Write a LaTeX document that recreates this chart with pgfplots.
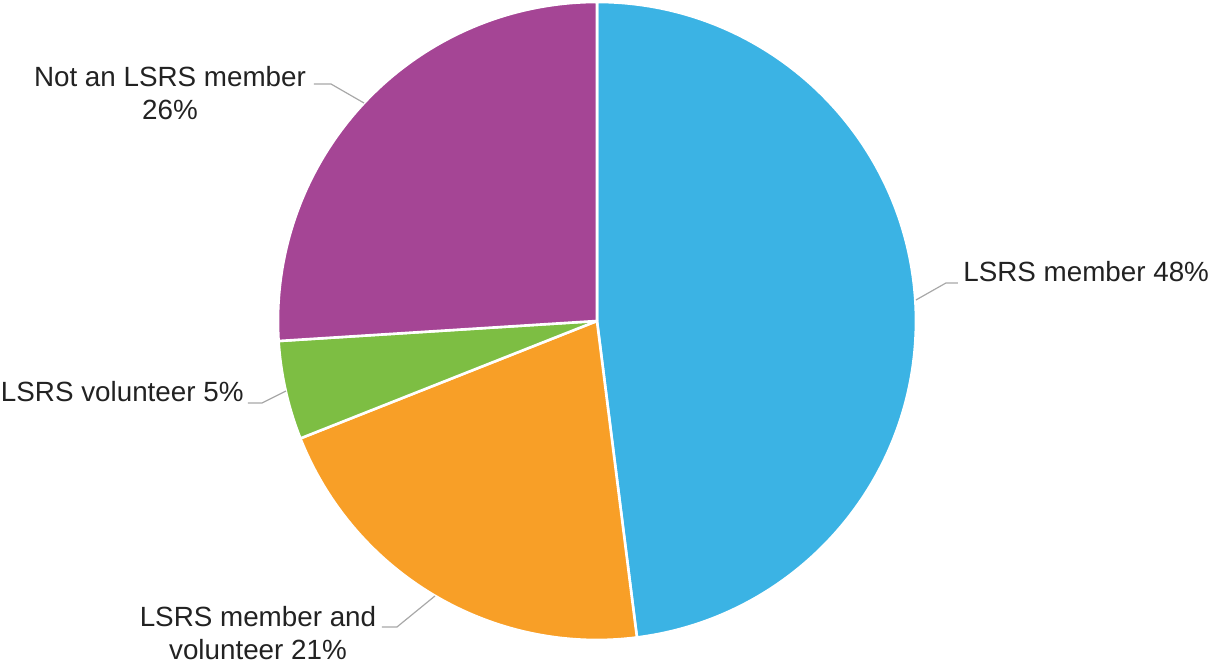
\documentclass[border=0pt]{standalone}
\usepackage{pgfplots}
\pgfplotsset{compat=1.18}
\usepackage{pgfplotstable}
\usepackage{fontspec}
\setmainfont{Liberation Sans}
\definecolor{lsblue}{HTML}{3BB3E4}
\definecolor{lsorange}{HTML}{F89F27}
\definecolor{lsgreen}{HTML}{7DBE43}
\definecolor{lspurple}{HTML}{A54595}
\definecolor{lead}{HTML}{A8A8A8}
\definecolor{txt}{HTML}{222222}

\pgfplotstableread{
value color
48 lsblue
21 lsorange
5 lsgreen
26 lspurple
}\piedata

\begin{document}
\begin{tikzpicture}
\xdef\cum{0}
\foreach \i in {0,1,2,3}{%
  \pgfplotstablegetelem{\i}{value}\of\piedata
  \pgfmathsetmacro\s{90-3.6*\cum}%
  \pgfmathsetmacro\e{90-3.6*(\cum+\pgfplotsretval)}%
  \pgfmathsetmacro\c{\cum+\pgfplotsretval}%
  \expandafter\xdef\csname sa\i\endcsname{\s}%
  \expandafter\xdef\csname ea\i\endcsname{\e}%
  \xdef\cum{\c}%
  \pgfplotstablegetelem{\i}{color}\of\piedata
  \expandafter\xdef\csname col\i\endcsname{\pgfplotsretval}%
}
\def\R{159.5bp}
\begin{axis}[
  x=0.5bp, y=0.5bp, y dir=reverse,
  xmin=0, xmax=1209, ymin=0, ymax=665,
  hide axis, clip=false,
]
\path (axis cs:0,0) rectangle (axis cs:1209,665);
\pgfplotsinvokeforeach{0,1,2,3}{
  \fill[fill=\csname col#1\endcsname, draw=white, line width=1.3bp, line join=round]
    (axis cs:597,321) -- ++(\csname sa#1\endcsname:\R)
    arc[start angle=\csname sa#1\endcsname, end angle=\csname ea#1\endcsname, radius=\R] -- cycle;
}
% leader lines
\draw[lead, line width=0.6bp] (axis cs:916,300) -- (axis cs:946,283) -- (axis cs:958,283);
\draw[lead, line width=0.6bp] (axis cs:364,103) -- (axis cs:331,84) -- (axis cs:314,84);
\draw[lead, line width=0.6bp] (axis cs:286,391) -- (axis cs:262,403) -- (axis cs:248,403);
\draw[lead, line width=0.6bp] (axis cs:435,596) -- (axis cs:397,627) -- (axis cs:382,627);
% labels
\begin{scope}[every node/.style={text=txt, font=\fontsize{13.9bp}{16.5bp}\selectfont, inner sep=0pt}]
\node[anchor=west] at (axis cs:963,272) {LSRS member 48\%};
\node[align=center] at (axis cs:170,93) {Not an LSRS member\\26\%};
\node[anchor=east] at (axis cs:244,392) {LSRS volunteer 5\%};
\node[align=center] at (axis cs:258,633) {LSRS member and\\volunteer 21\%};
\end{scope}
\end{axis}
\end{tikzpicture}
\end{document}
